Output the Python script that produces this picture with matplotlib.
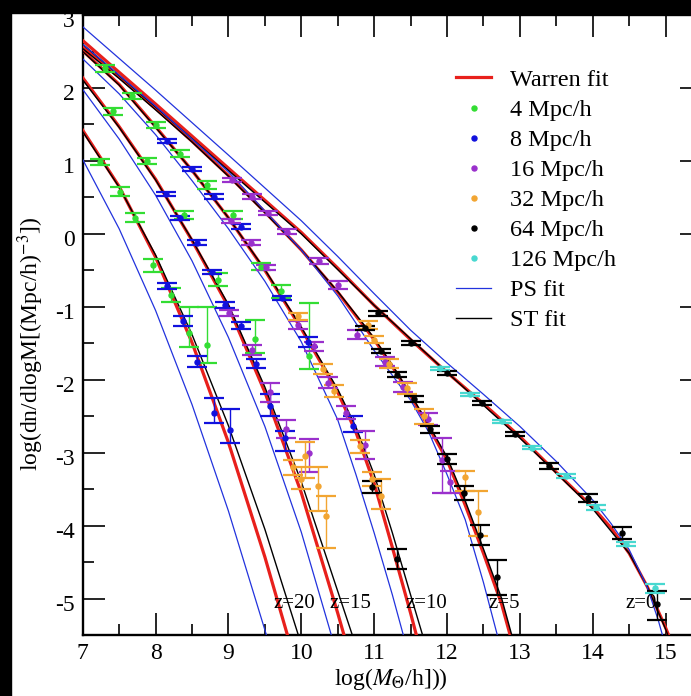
import matplotlib
matplotlib.use("Agg")
import matplotlib.pyplot as plt
from matplotlib.patches import Rectangle
from matplotlib.lines import Line2D
from matplotlib.ticker import MultipleLocator
from matplotlib.transforms import ScaledTranslation
import numpy as np

plt.rcParams['font.family'] = ['Liberation Serif', 'DejaVu Serif']
plt.rcParams['mathtext.fontset'] = 'stix'
plt.rcParams['axes.unicode_minus'] = False

#%% fit curves (log M, log dn/dlogM)
z0_W_x = [7, 8, 9, 10, 10.5, 11, 11.5, 12, 12.5, 13, 13.5, 14, 14.25, 14.5, 14.75, 15.0, 15.04]
z0_W_y = [2.65, 1.78, 0.90, 0.02, -0.47, -0.98, -1.45, -1.90, -2.33, -2.78, -3.27, -3.75, -4.03, -4.38, -4.84, -5.40, -5.50]
z0_PS_x = [7, 8, 9, 10, 10.5, 11, 11.5, 12, 12.5, 13, 13.5, 14, 14.25, 14.5, 14.75, 14.9, 14.97]
z0_PS_y = [2.84, 1.97, 1.08, 0.18, -0.31, -0.82, -1.32, -1.77, -2.20, -2.64, -3.12, -3.65, -3.97, -4.33, -4.85, -5.30, -5.55]
z0_ST_x = [7, 8, 9, 10, 11, 12, 13, 13.5, 14, 14.5, 14.75, 15.0, 15.03]
z0_ST_y = [2.60, 1.74, 0.87, 0.0, -0.98, -1.90, -2.80, -3.28, -3.77, -4.38, -4.84, -5.42, -5.50]

z5_W_x = [7, 7.5, 8, 8.5, 9, 9.5, 10, 10.5, 10.87, 11.0, 11.25, 11.5, 11.75, 12.0, 12.25, 12.5, 12.75, 12.88]
z5_W_y = [2.57, 2.15, 1.72, 1.27, 0.80, 0.30, -0.22, -0.80, -1.28, -1.45, -1.82, -2.22, -2.65, -3.10, -3.72, -4.38, -5.08, -5.55]
z5_PS_x = [7, 8, 9, 10, 10.5, 11.0, 11.5, 11.75, 12.0, 12.25, 12.5, 12.69, 12.71]
z5_PS_y = [2.60, 1.75, 0.85, -0.22, -0.85, -1.60, -2.28, -2.72, -3.30, -3.92, -4.78, -5.50, -5.58]
z5_ST_x = [7, 7.5, 8, 8.5, 9, 9.5, 10, 10.5, 10.87, 11.0, 11.25, 11.5, 11.75, 12.0, 12.25, 12.5, 12.75, 12.91]
z5_ST_y = [2.54, 2.13, 1.70, 1.26, 0.79, 0.29, -0.22, -0.79, -1.26, -1.43, -1.80, -2.20, -2.62, -3.06, -3.66, -4.32, -5.00, -5.58]

z10_W_x = [7, 7.5, 8, 8.5, 9, 9.5, 10, 10.5, 10.75, 11.0, 11.25, 11.5, 11.6]
z10_W_y = [2.51, 2.05, 1.47, 0.87, 0.22, -0.50, -1.30, -2.17, -2.72, -3.42, -4.30, -5.20, -5.58]
z10_PS_x = [7, 7.5, 8, 8.5, 9, 9.5, 10, 10.5, 10.75, 11.0, 11.25, 11.4, 11.42]
z10_PS_y = [2.40, 1.92, 1.36, 0.73, 0.07, -0.65, -1.48, -2.55, -3.30, -4.10, -4.95, -5.50, -5.58]
z10_ST_x = [7, 7.5, 8, 8.5, 9, 9.5, 10, 10.5, 10.75, 11.0, 11.25, 11.5, 11.7]
z10_ST_y = [2.50, 2.04, 1.46, 0.87, 0.22, -0.49, -1.28, -2.13, -2.65, -3.30, -4.10, -4.95, -5.62]

z15_W_x = [7, 7.5, 8, 8.5, 9, 9.5, 10, 10.5, 10.62]
z15_W_y = [2.14, 1.47, 0.75, -0.09, -1.00, -2.17, -3.55, -5.20, -5.62]
z15_PS_x = [7, 7.5, 8, 8.5, 9, 9.5, 10, 10.38, 10.42]
z15_PS_y = [1.98, 1.30, 0.53, -0.37, -1.42, -2.64, -4.09, -5.39, -5.53]
z15_ST_x = [7, 7.5, 8, 8.5, 9, 9.5, 10, 10.5, 10.74]
z15_ST_y = [2.11, 1.46, 0.74, -0.08, -0.97, -2.10, -3.40, -4.90, -5.62]

z20_W_x = [7, 7.5, 8, 8.5, 9, 9.5, 9.85]
z20_W_y = [1.42, 0.65, -0.32, -1.49, -2.86, -4.43, -5.64]
z20_PS_x = [7, 7.5, 8, 8.5, 9, 9.5, 9.55]
z20_PS_y = [1.02, 0.07, -1.05, -2.34, -3.80, -5.43, -5.60]
z20_ST_x = [7, 7.5, 8, 8.5, 9, 9.5, 10.0]
z20_ST_y = [1.40, 0.64, -0.29, -1.38, -2.63, -4.05, -5.63]

#%% simulation points: x, y, lower end, upper end of error bar
b4_x = [7.31, 7.24, 7.42, 7.67, 7.51, 7.72, 7.88, 8.0, 8.34, 8.39, 8.71, 9.06, 7.97, 8.21, 8.46, 8.70, 8.85, 9.36, 9.45, 9.72, 10.11]
b4_y = [2.27, 0.99, 1.68, 1.89, 0.58, 0.22, 1.00, 1.49, 1.10, 0.26, 0.67, 0.26, -0.43, -0.84, -1.36, -1.53, -0.63, -1.44, -0.45, -0.79, -1.68]
b4_lo = [2.22, 0.95, 1.63, 1.85, 0.52, 0.16, 0.96, 1.45, 1.05, 0.21, 0.62, 0.20, -0.52, -0.94, -1.55, -1.77, -0.72, -1.64, -0.50, -0.88, -1.85]
b4_hi = [2.32, 1.03, 1.73, 1.93, 0.64, 0.28, 1.04, 1.53, 1.15, 0.31, 0.72, 0.32, -0.34, -0.74, -1.00, -1.00, -0.54, -1.18, -0.40, -0.70, -0.95]

b8_x = [8.16, 8.50, 8.14, 8.80, 8.34, 9.17, 8.57, 8.15, 8.37, 8.57, 8.80, 9.02, 8.78, 8.95, 9.17, 9.38, 9.57, 9.78, 9.74, 10.09, 10.71]
b8_y = [1.27, 0.89, 0.55, 0.51, 0.22, 0.10, -0.12, -0.71, -1.20, -1.75, -2.45, -2.69, -0.52, -0.97, -1.26, -1.78, -2.36, -2.80, -0.88, -1.48, -2.64]
b8_lo = [1.24, 0.86, 0.52, 0.48, 0.19, 0.07, -0.15, -0.75, -1.27, -1.82, -2.59, -2.87, -0.55, -1.01, -1.31, -1.84, -2.50, -2.98, -0.91, -1.55, -2.72]
b8_hi = [1.30, 0.92, 0.58, 0.54, 0.25, 0.13, -0.09, -0.67, -1.13, -1.68, -2.25, -2.40, -0.49, -0.93, -1.21, -1.72, -2.20, -2.70, -0.85, -1.41, -2.50]

b16_x = [9.05, 9.03, 9.33, 9.54, 9.81, 9.31, 9.01, 9.32, 9.57, 9.79, 10.11, 9.52, 9.95, 10.18, 10.37, 10.76,
         10.24, 10.5, 11.15, 11.4, 11.74, 11.93, 12.04, 10.62, 10.87]
b16_y = [0.74, 0.18, 0.51, 0.29, 0.03, -0.12, -1.09, -1.59, -2.17, -2.67, -3.0, -0.46, -1.25, -1.54, -2.04, -1.38,
         -0.37, -0.7, -1.75, -2.1, -2.54, -3.1, -3.4, -2.45, -2.9]
b16_lo = [0.71, 0.15, 0.48, 0.26, 0.0, -0.15, -1.13, -1.66, -2.30, -2.80, -3.27, -0.49, -1.30, -1.60, -2.12, -1.44,
          -0.41, -0.75, -1.81, -2.17, -2.62, -3.55, -3.55, -2.54, -3.09]
b16_hi = [0.77, 0.21, 0.54, 0.32, 0.06, -0.09, -1.05, -1.52, -2.05, -2.55, -2.81, -0.43, -1.20, -1.48, -1.96, -1.32,
          -0.33, -0.65, -1.69, -2.03, -2.46, -2.80, -3.25, -2.36, -2.70]

b32_x = [9.89, 10.0, 9.95, 10.92, 10.3, 10.45, 10.8, 10.97, 11.1, 11.0, 11.2, 11.45, 11.68, 12.25, 12.43,
         10.05, 10.23, 10.34]
b32_y = [-3.19, -3.36, -1.13, -1.25, -1.85, -2.15, -2.91, -3.36, -3.6, -1.45, -1.78, -2.12, -2.5, -3.33, -3.82,
         -3.05, -3.46, -3.87]
b32_lo = [-3.30, -3.5, -1.18, -1.31, -1.92, -2.23, -3.0, -3.46, -3.77, -1.5, -1.84, -2.2, -2.6, -3.52, -4.14,
          -3.35, -3.8, -4.3]
b32_hi = [-3.10, -3.2, -1.08, -1.19, -1.78, -2.07, -2.82, -3.26, -3.36, -1.4, -1.72, -2.04, -2.4, -3.25, -3.52,
          -2.85, -3.2, -3.6]

b64_x = [11.05, 11.5, 12.0, 12.48, 12.93, 13.40, 13.93, 14.40, 14.88,
         10.87, 11.09, 11.31, 11.55, 11.77, 12.0, 12.23, 12.45, 12.68, 10.97, 11.31]
b64_y = [-1.09, -1.50, -1.91, -2.32, -2.74, -3.18, -3.62, -4.10, -5.08,
         -1.29, -1.61, -1.93, -2.26, -2.68, -3.09, -3.55, -4.13, -4.71, -3.47, -4.46]
b64_lo = [-1.12, -1.53, -1.94, -2.35, -2.77, -3.22, -3.67, -4.18, -5.30,
          -1.32, -1.64, -1.96, -2.30, -2.73, -3.16, -3.65, -4.27, -4.95, -3.55, -4.60]
b64_hi = [-1.06, -1.47, -1.88, -2.29, -2.71, -3.14, -3.57, -4.02, -4.90,
          -1.26, -1.58, -1.90, -2.22, -2.63, -3.02, -3.45, -3.99, -4.47, -3.39, -4.32]

b126_x = [11.91, 12.32, 12.76, 13.17, 13.63, 14.04, 14.46, 14.85]
b126_y = [-1.84, -2.20, -2.57, -2.93, -3.32, -3.75, -4.25, -4.86]
b126_lo = [-1.86, -2.22, -2.59, -2.95, -3.35, -3.78, -4.28, -4.92]
b126_hi = [-1.82, -2.18, -2.55, -2.91, -3.29, -3.72, -4.22, -4.80]

z_labels = ['z=20', 'z=15', 'z=10', 'z=5', 'z=0']
z_label_x = [9.9, 10.67, 11.71, 12.78, 14.66]

#%%
fig = plt.figure(figsize=(6.91, 6.96), dpi=100)
ax = fig.add_axes([0.1197, 0.0876, 0.8963, 0.8908])

red = '#e8201c'
blue = '#2233dd'
W = [(z0_W_x, z0_W_y), (z5_W_x, z5_W_y), (z10_W_x, z10_W_y), (z15_W_x, z15_W_y), (z20_W_x, z20_W_y)]
PS = [(z0_PS_x, z0_PS_y), (z5_PS_x, z5_PS_y), (z10_PS_x, z10_PS_y), (z15_PS_x, z15_PS_y), (z20_PS_x, z20_PS_y)]
ST = [(z0_ST_x, z0_ST_y), (z5_ST_x, z5_ST_y), (z10_ST_x, z10_ST_y), (z15_ST_x, z15_ST_y), (z20_ST_x, z20_ST_y)]

for x, y in W:
    ax.plot(x, y, color=red, lw=2.3, zorder=3)
for x, y in ST:
    ax.plot(x, y, color='black', lw=1.0, zorder=3.1)
for x, y in PS:
    ax.plot(x, y, color=blue, lw=0.9, zorder=3.2)

sets = [(b4_x, b4_y, b4_lo, b4_hi, '#33dd33', '4 Mpc/h'),
        (b8_x, b8_y, b8_lo, b8_hi, '#1111dd', '8 Mpc/h'),
        (b16_x, b16_y, b16_lo, b16_hi, '#9a30cc', '16 Mpc/h'),
        (b32_x, b32_y, b32_lo, b32_hi, '#f2a532', '32 Mpc/h'),
        (b64_x, b64_y, b64_lo, b64_hi, 'black', '64 Mpc/h'),
        (b126_x, b126_y, b126_lo, b126_hi, '#48d8d0', '126 Mpc/h')]
handles = [Line2D([], [], color=red, lw=2.3)]
labels = ['Warren fit']
for x, y, lo, hi, c, lab in sets:
    x = np.array(x); y = np.array(y)
    err = [y - np.array(lo), np.array(hi) - y]
    ax.errorbar(x, y, yerr=err, fmt='o', ms=3.6, color=c, ecolor=c, elinewidth=1.0,
                capsize=7, capthick=1.6, zorder=4)
    handles.append(Line2D([], [], ls='none', marker='o', ms=3.6, color=c))
    labels.append(lab)
handles += [Line2D([], [], color=blue, lw=0.9), Line2D([], [], color='black', lw=1.0)]
labels += ['PS fit', 'ST fit']

for t, xx in zip(z_labels, z_label_x):
    ax.text(xx, -5.07, t, fontsize=15, ha='center', va='center', zorder=5)

ax.set_xlim(7, 15.5)
ax.set_ylim(-5.5, 3)
ax.xaxis.set_major_locator(MultipleLocator(1))
ax.xaxis.set_minor_locator(MultipleLocator(0.5))
ax.yaxis.set_major_locator(MultipleLocator(1))
ax.yaxis.set_minor_locator(MultipleLocator(0.5))
ax.tick_params(which='both', direction='in', top=True, right=True, width=1.2, labelsize=17)
ax.tick_params(which='major', length=16)
ax.tick_params(which='minor', length=8)
ax.tick_params(axis='x', pad=5.5)
ax.tick_params(axis='y', pad=5.5)
for s in ax.spines.values():
    s.set_linewidth(1.7)

# y tick labels sit a few pixels below their ticks in the original
shift = ScaledTranslation(0, -4 / 100, fig.dpi_scale_trans)
for t in ax.yaxis.get_major_ticks():
    t.label1.set_transform(t.label1.get_transform() + shift)

ax.set_xlabel(r'log($M_{\Theta}$/h]))', fontsize=17)
ax.set_ylabel(r'log(dn/dlogM[(Mpc/h)$^{-3}$])', fontsize=17)
ax.xaxis.set_label_coords(0.497, -0.05)
ax.yaxis.set_label_coords(-0.06, 0.47)

ax.legend(handles, labels, loc='upper left', bbox_to_anchor=(0.603, 0.913), frameon=False, fontsize=17.5,
          borderpad=0, borderaxespad=0, handlelength=1.45, handletextpad=0.75, labelspacing=0.33)

fig.add_artist(Rectangle((0, 0), 11 / 691, 1, transform=fig.transFigure, color='black', zorder=10))
fig.add_artist(Rectangle((0, 1 - 12.5 / 696), 1, 12.5 / 696, transform=fig.transFigure, color='black', zorder=10))

fig.savefig('out.png', dpi=100)
